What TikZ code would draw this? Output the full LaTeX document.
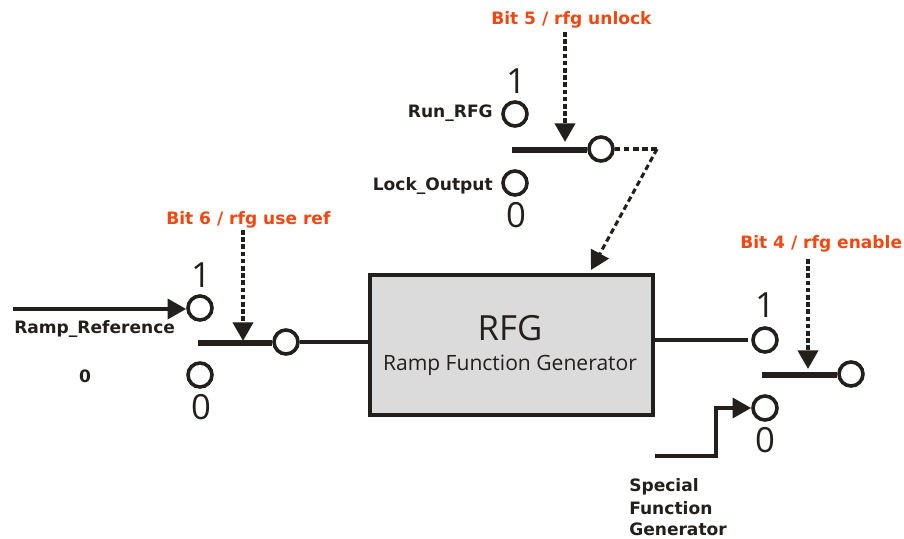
\documentclass[tikz,border=0pt]{standalone}
\usepackage{fontspec}
\setmainfont{DejaVu Sans}
\newfontfamily\thinfont{Open Sans}
\usetikzlibrary{arrows.meta}
\definecolor{bitc}{HTML}{F04810}
\definecolor{ink}{HTML}{231F1C}
\tikzset{
 lab/.style={font=\bfseries\fontsize{12.8}{14}\selectfont,text=ink,inner sep=0pt},
 bitlab/.style={font=\bfseries\fontsize{12.8}{14}\selectfont,text=bitc,inner sep=0pt},
 num/.style={font=\thinfont\fontsize{26}{28}\selectfont,inner sep=0pt,text=ink},
 pin/.style={circle,draw=ink,line width=2.7pt,fill=white,minimum size=18pt,inner sep=0pt},
 bar/.style={line width=4.8pt,ink},
 wire/.style={line width=2.8pt,ink},
 ctl/.style={line width=3pt,dash pattern=on 3.4pt off 2pt,ink},
 thinctl/.style={line width=2.3pt,dash pattern=on 4.2pt off 2.6pt,ink},
 head/.style={-{Stealth[length=14pt,width=15pt,inset=0pt]}},
}
\begin{document}
\begin{tikzpicture}[x=.75pt,y=-.75pt]
\useasboundingbox (0,0) rectangle (904,539);
% box
\node[draw=ink,line width=3.2pt,fill=black!14,minimum width=212pt,minimum height=105.5pt,inner sep=0pt] (box) at (511.5,345) {};
\node[font=\thinfont\fontsize{26}{28}\selectfont,text=ink,inner sep=0pt] (t1) at (510,328) {RFG};
\node[font=\thinfont\fontsize{15.8}{18}\selectfont,text=ink,inner sep=0pt] (t2) at (510,365) {Ramp Function Generator};
% left switch
\node[pin] (la) at (200,308) {};
\node[pin] (lb) at (200,375) {};
\node[pin] (lo) at (286,342) {};
\coordinate (lbar) at (198,343);
\coordinate (lin) at (13,309);
\coordinate (lc) at (243,230);
\coordinate (lct) at (243,341);
\draw[bar] (lbar) -- (lo.west|-lbar);
\draw[wire] (lo) -- (box.west|-lo);
\draw[wire,head] (lin) -- (la.west|-lin);
\draw[ctl,head] (lc) -- (lct);
\node[num] (l1) at (201,275) {1};
\node[num] (l0) at (201,407) {0};
\node[lab,anchor=west] (rr) at (14,329) {Ramp\_Reference};
\node[lab] (z) at (85,376) {0};
\node[bitlab,anchor=west] (b6) at (166,220) {Bit 6 / rfg use ref};
% top switch
\node[pin] (ta) at (515,114) {};
\node[pin] (tb) at (515,183) {};
\node[pin] (to) at (601,149) {};
\coordinate (tbar) at (512,150);
\coordinate (tc) at (565,32);
\coordinate (tct) at (565,142);
\coordinate (tk) at (660,149);
\coordinate (tk2) at (657,149);
\coordinate (tend) at (591,270);
\draw[bar] (tbar) -- (to.west|-tbar);
\draw[ctl,head] (tc) -- (tct);
\draw[thinctl] (to) -- (tk);
\draw[thinctl,head] (tk2) -- (tend);
\node[num] (t11) at (516,81) {1};
\node[num] (t00) at (516,215) {0};
\node[lab,anchor=east] (run) at (493,113) {Run\_RFG};
\node[lab,anchor=east] (lock) at (493,186) {Lock\_Output};
\node[bitlab,anchor=west] (b5) at (491,20) {Bit 5 / rfg unlock};
% right switch
\node[pin] (ra) at (765,340) {};
\node[pin] (rb) at (765,408) {};
\node[pin] (ro) at (851,374) {};
\coordinate (rbar) at (762,375);
\coordinate (rc) at (808,259);
\coordinate (rct) at (808,369);
\coordinate (ws) at (655,456);
\coordinate (wm) at (716,456);
\coordinate (wt) at (716,408);
\draw[bar] (rbar) -- (ro.west|-rbar);
\draw[wire] (box.east|-ra) -- (748,340);
\draw[wire,head,line join=miter] (ws) -- (wm) -- (wt) -- (rb.west);
\draw[ctl,head] (rc) -- (rct);
\node[num] (r1) at (765,305) {1};
\node[num] (r0) at (765,440) {0};
\node[bitlab,anchor=west] (b4) at (740,244) {Bit 4 / rfg enable};
\node[lab,anchor=base west] (s1) at (629,491) {Special};
\node[lab,anchor=base west] (s2) at (629,514) {Function};
\node[lab,anchor=base west] (s3) at (629,535.5) {Generator};
\end{tikzpicture}
\end{document}
